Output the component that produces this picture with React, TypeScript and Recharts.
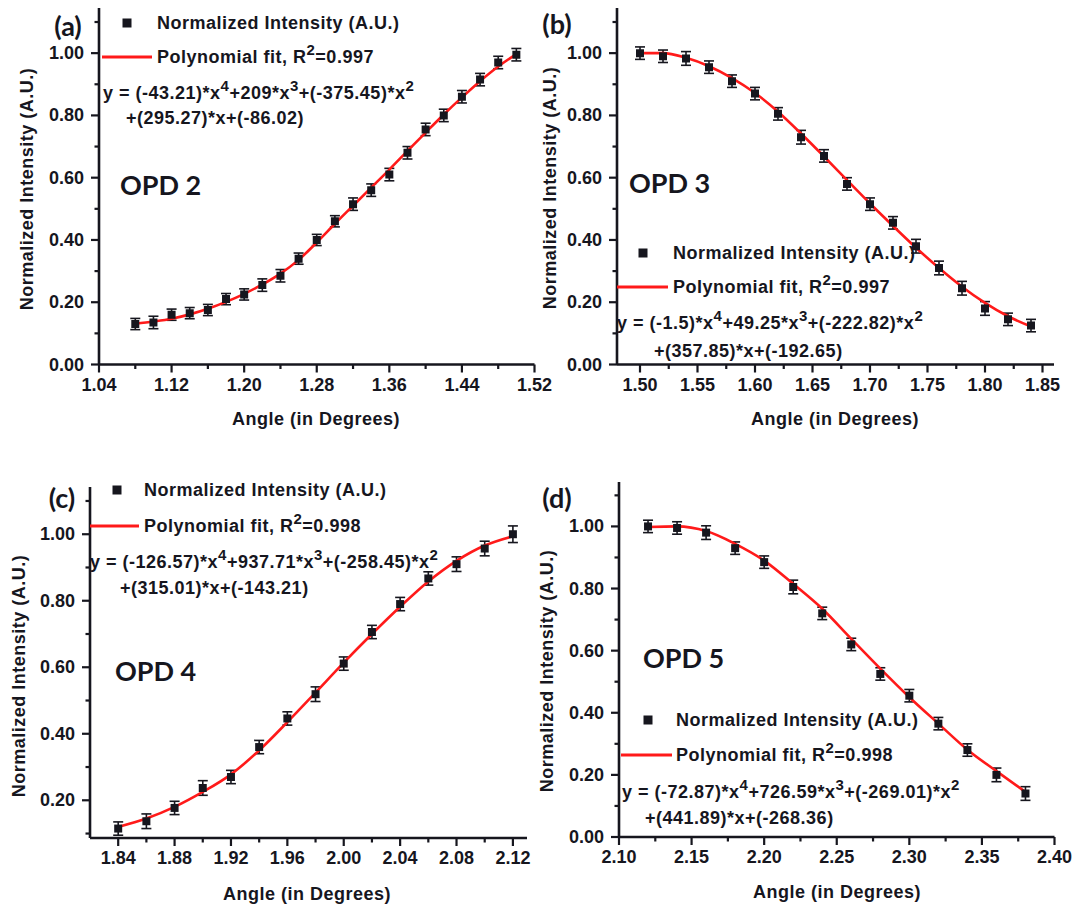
import React from 'react';
import { ComposedChart, Scatter, Line, XAxis, YAxis, ErrorBar, ZAxis } from 'recharts';

const FONT = '"Liberation Sans", Arial, sans-serif';
const TITLE_FONT = 'Lato, "Open Sans", sans-serif';
const INK = '#16161e';
const RED = '#ff1a1a';

// ---------- Panel (a) : OPD 2 ----------
const anglesA = [1.08, 1.10, 1.12, 1.14, 1.16, 1.18, 1.20, 1.22, 1.24, 1.26, 1.28, 1.30, 1.32, 1.34, 1.36, 1.38, 1.40, 1.42, 1.44, 1.46, 1.48, 1.50];
const intensityA = [0.13, 0.135, 0.16, 0.165, 0.175, 0.21, 0.225, 0.255, 0.285, 0.34, 0.40, 0.46, 0.515, 0.56, 0.61, 0.68, 0.755, 0.80, 0.86, 0.915, 0.97, 0.995];
const errA = [0.018, 0.02, 0.018, 0.018, 0.018, 0.018, 0.018, 0.02, 0.02, 0.018, 0.018, 0.018, 0.02, 0.02, 0.02, 0.02, 0.02, 0.02, 0.02, 0.02, 0.02, 0.02];
const fitA = [0.131, 0.138, 0.147, 0.161, 0.179, 0.201, 0.227, 0.257, 0.292, 0.336, 0.392, 0.452, 0.51, 0.568, 0.626, 0.686, 0.745, 0.803, 0.858, 0.91, 0.957, 0.997];
const xTicksA = [1.04, 1.08, 1.12, 1.16, 1.20, 1.24, 1.28, 1.32, 1.36, 1.40, 1.44, 1.48, 1.52];
const xMajorA = [1.04, 1.12, 1.20, 1.28, 1.36, 1.44, 1.52];

// ---------- Panel (b) : OPD 3 ----------
const anglesB = [1.50, 1.52, 1.54, 1.56, 1.58, 1.60, 1.62, 1.64, 1.66, 1.68, 1.70, 1.72, 1.74, 1.76, 1.78, 1.80, 1.82, 1.84];
const intensityB = [1.0, 0.99, 0.983, 0.955, 0.91, 0.87, 0.805, 0.73, 0.67, 0.58, 0.515, 0.455, 0.38, 0.31, 0.245, 0.18, 0.145, 0.125];
const errB = [0.02, 0.02, 0.022, 0.02, 0.02, 0.02, 0.02, 0.022, 0.02, 0.02, 0.02, 0.02, 0.022, 0.022, 0.022, 0.022, 0.02, 0.02];
const fitB = [1.0, 1.0, 0.985, 0.958, 0.92, 0.872, 0.812, 0.742, 0.668, 0.592, 0.517, 0.445, 0.375, 0.31, 0.25, 0.198, 0.155, 0.122];
const xTicksB = [1.50, 1.525, 1.55, 1.575, 1.60, 1.625, 1.65, 1.675, 1.70, 1.725, 1.75, 1.775, 1.80, 1.825, 1.85];
const xMajorB = [1.50, 1.55, 1.60, 1.65, 1.70, 1.75, 1.80, 1.85];

// ---------- Panel (c) : OPD 4 ----------
const anglesC = [1.84, 1.86, 1.88, 1.90, 1.92, 1.94, 1.96, 1.98, 2.00, 2.02, 2.04, 2.06, 2.08, 2.10, 2.12];
const intensityC = [0.115, 0.137, 0.177, 0.237, 0.27, 0.36, 0.446, 0.519, 0.611, 0.706, 0.79, 0.867, 0.91, 0.957, 1.0];
const errC = [0.02, 0.022, 0.02, 0.022, 0.02, 0.02, 0.02, 0.022, 0.02, 0.02, 0.02, 0.02, 0.022, 0.022, 0.025];
const fitC = [0.12, 0.145, 0.18, 0.225, 0.278, 0.35, 0.435, 0.524, 0.614, 0.70, 0.782, 0.858, 0.92, 0.966, 0.994];
const xTicksC = [1.84, 1.86, 1.88, 1.90, 1.92, 1.94, 1.96, 1.98, 2.00, 2.02, 2.04, 2.06, 2.08, 2.10, 2.12];
const xMajorC = [1.84, 1.88, 1.92, 1.96, 2.00, 2.04, 2.08, 2.12];

// ---------- Panel (d) : OPD 5 ----------
const anglesD = [2.12, 2.14, 2.16, 2.18, 2.20, 2.22, 2.24, 2.26, 2.28, 2.30, 2.32, 2.34, 2.36, 2.38];
const intensityD = [1.0, 0.995, 0.98, 0.93, 0.885, 0.805, 0.72, 0.62, 0.525, 0.455, 0.365, 0.28, 0.20, 0.14];
const errD = [0.02, 0.02, 0.022, 0.02, 0.02, 0.022, 0.02, 0.02, 0.02, 0.02, 0.02, 0.02, 0.022, 0.022];
const fitD = [0.998, 1.0, 0.985, 0.944, 0.89, 0.815, 0.735, 0.638, 0.542, 0.45, 0.365, 0.281, 0.212, 0.145];
const xTicksD = [2.10, 2.125, 2.15, 2.175, 2.20, 2.225, 2.25, 2.275, 2.30, 2.325, 2.35, 2.375, 2.40];
const xMajorD = [2.10, 2.15, 2.20, 2.25, 2.30, 2.35, 2.40];

// ---------- Y ticks ----------
const yTicksFull = [0, 0.1, 0.2, 0.3, 0.4, 0.5, 0.6, 0.7, 0.8, 0.9, 1.0, 1.1];
const yTicksNoZero = [0.1, 0.2, 0.3, 0.4, 0.5, 0.6, 0.7, 0.8, 0.9, 1.0, 1.1];
const yMajor = [0, 0.2, 0.4, 0.6, 0.8, 1.0];

const isMajor = (v: number, majors: number[]) => majors.some((m) => Math.abs(m - v) < 1e-6);

const zip = (xs: number[], ys: number[], es?: number[]) =>
  xs.map((x, i) => (es ? { x, y: ys[i], err: es[i] } : { x, y: ys[i] }));

const XTick = (props: any) => {
  const { x, y, payload, majors } = props;
  const v = payload.value as number;
  const major = isMajor(v, majors);
  return (
    <g>
      <line x1={x} y1={y} x2={x} y2={y + (major ? 8 : 4.5)} stroke={INK} strokeWidth={2.2} />
      {major && (
        <text x={x} y={y + 20} textAnchor="middle" dominantBaseline="central" fontFamily={FONT} fontWeight={700} fontSize={18} fill={INK}>
          {v.toFixed(2)}
        </text>
      )}
    </g>
  );
};

const YTick = (props: any) => {
  const { x, y, payload } = props;
  const v = payload.value as number;
  const major = isMajor(v, yMajor);
  return (
    <g>
      <line x1={x} y1={y} x2={x - (major ? 8 : 4.5)} y2={y} stroke={INK} strokeWidth={2.2} />
      {major && (
        <text x={x - 15} y={y} textAnchor="end" dominantBaseline="central" fontFamily={FONT} fontWeight={700} fontSize={18} fill={INK}>
          {v.toFixed(2)}
        </text>
      )}
    </g>
  );
};

type PanelProps = {
  left: number; top: number; width: number; height: number;
  xDomain: [number, number]; yDomain: [number, number];
  xTicks: number[]; xMajor: number[]; yTicks: number[];
  points: { x: number; y: number; err?: number }[];
  fit: { x: number; y: number }[];
};

function Panel({ left, top, width, height, xDomain, yDomain, xTicks, xMajor, yTicks, points, fit }: PanelProps) {
  const YW = 80, XH = 40, MT = 10, MR = 30;
  return (
    <div style={{ position: 'absolute', left: left - YW, top: top - MT }}>
      <ComposedChart width={YW + width + MR} height={MT + height + XH} margin={{ top: MT, right: MR, bottom: 0, left: 0 }}>
        <XAxis
          type="number" dataKey="x" domain={xDomain} ticks={xTicks} interval={0} allowDataOverflow
          height={XH} tickSize={0} tickMargin={0} tickLine={false}
          axisLine={{ stroke: INK, strokeWidth: 2.6 }}
          tick={(p: any) => <XTick {...p} majors={xMajor} />}
        />
        <YAxis
          type="number" dataKey="y" domain={yDomain} ticks={yTicks} interval={0} allowDataOverflow
          width={YW} tickSize={0} tickMargin={0} tickLine={false}
          axisLine={{ stroke: INK, strokeWidth: 2.6 }}
          tick={(p: any) => <YTick {...p} />}
        />
        <ZAxis range={[64, 64]} />
        <Scatter data={points} fill={INK} shape="square" isAnimationActive={false}>
          <ErrorBar dataKey="err" direction="y" width={5} stroke={INK} strokeWidth={1.6} />
        </Scatter>
        <Line data={fit} dataKey="y" type="monotone" stroke={RED} strokeWidth={2.6} dot={false} activeDot={false} isAnimationActive={false} />
      </ComposedChart>
    </div>
  );
}

function Rich({ x, y, text, size = 18, spacing = 0.5 }: { x: number; y: number; text: string; size?: number; spacing?: number }) {
  const parts = text.split(/(\^\d)/).filter((s) => s.length > 0);
  const out: React.ReactNode[] = [];
  let shifted = false;
  parts.forEach((p, i) => {
    if (p.startsWith('^')) {
      out.push(<tspan key={i} dy={-8} fontSize={size - 3}>{p.slice(1)}</tspan>);
      shifted = true;
    } else {
      out.push(<tspan key={i} dy={shifted ? 8 : 0} fontSize={size}>{p}</tspan>);
      shifted = false;
    }
  });
  return (
    <text x={x} y={y} dominantBaseline="central" fontFamily={FONT} fontWeight={700} fontSize={size} fill={INK} style={{ letterSpacing: `${spacing}px`, whiteSpace: 'pre' }}>
      {out}
    </text>
  );
}

type LegendProps = { sq: [number, number]; tx: number; y1: number; lineX: [number, number]; y2: number; r2: string; eq1: [number, number, string]; eq2: [number, number, string] };

function Legend({ sq, tx, y1, lineX, y2, r2, eq1, eq2 }: LegendProps) {
  return (
    <g>
      <rect x={sq[0] - 4.5} y={sq[1] - 4.5} width={9} height={9} fill={INK} />
      <Rich x={tx} y={y1} text="Normalized Intensity (A.U.)" />
      <line x1={lineX[0]} y1={y2} x2={lineX[1]} y2={y2} stroke={RED} strokeWidth={3} />
      <Rich x={tx} y={y2} text={`Polynomial fit, R^2=${r2}`} />
      <Rich x={eq1[0]} y={eq1[1]} text={eq1[2]} />
      <Rich x={eq2[0]} y={eq2[1]} text={eq2[2]} />
    </g>
  );
}

function Titles({ xc, xy, yx, yc }: { xc: number; xy: number; yx: number; yc: number }) {
  return (
    <g fontFamily={FONT} fontWeight={700} fontSize={18} fill={INK}>
      <text x={xc} y={xy} textAnchor="middle" dominantBaseline="central" style={{ letterSpacing: '0.5px' }}>Angle (in Degrees)</text>
      <text x={yx} y={yc} textAnchor="middle" dominantBaseline="central" transform={`rotate(-90 ${yx} ${yc})`} style={{ letterSpacing: '0.5px' }}>
        Normalized Intensity (A.U.)
      </text>
    </g>
  );
}

function Label({ x, y, text, size, anchor = 'start' }: { x: number; y: number; text: string; size: number; anchor?: string }) {
  return (
    <text x={x} y={y} textAnchor={anchor as any} dominantBaseline="central" fontFamily={TITLE_FONT} fontWeight={700} fontSize={size} fill={INK}>
      {text}
    </text>
  );
}

export default function App() {
  return (
    <div style={{ position: 'absolute', left: 0, top: 0, width: 1075, height: 908, background: '#fff', overflow: 'hidden' }}>
      <Panel left={98.5} top={7.5} width={435.5} height={356.5} xDomain={[1.04, 1.52]} yDomain={[0, 1.145]}
        xTicks={xTicksA} xMajor={xMajorA} yTicks={yTicksFull} points={zip(anglesA, intensityA, errA)} fit={zip(anglesA, fitA)} />
      <Panel left={616.5} top={7.5} width={437} height={356.5} xDomain={[1.48, 1.86]} yDomain={[0, 1.145]}
        xTicks={xTicksB} xMajor={xMajorB} yTicks={yTicksFull} points={zip(anglesB, intensityB, errB)} fit={zip(anglesB, fitB)} />
      <Panel left={89.5} top={486.5} width={437} height={351} xDomain={[1.82, 2.13]} yDomain={[0.0866, 1.142]}
        xTicks={xTicksC} xMajor={xMajorC} yTicks={yTicksNoZero} points={zip(anglesC, intensityC, errC)} fit={zip(anglesC, fitC)} />
      <Panel left={619} top={481.5} width={435.5} height={355} xDomain={[2.10, 2.40]} yDomain={[0, 1.143]}
        xTicks={xTicksD} xMajor={xMajorD} yTicks={yTicksFull} points={zip(anglesD, intensityD, errD)} fit={zip(anglesD, fitD)} />

      <svg width={1075} height={908} style={{ position: 'absolute', left: 0, top: 0, pointerEvents: 'none' }}>
        {/* panel (a) */}
        <Label x={68} y={25} text="(a)" size={27} anchor="middle" />
        <Label x={120} y={184} text="OPD 2" size={27} />
        <Legend sq={[127, 23]} tx={157} y1={23} lineX={[102, 152]} y2={57} r2="0.997"
          eq1={[103, 93, 'y = (-43.21)*x^4+209*x^3+(-375.45)*x^2']} eq2={[126, 118, '+(295.27)*x+(-86.02)']} />
        <Titles xc={316} xy={419} yx={27} yc={189} />

        {/* panel (b) */}
        <Label x={557} y={23} text="(b)" size={27} anchor="middle" />
        <Label x={629} y={182} text="OPD 3" size={27} />
        <Legend sq={[643, 253]} tx={673} y1={253} lineX={[617, 668]} y2={287} r2="0.997"
          eq1={[617, 323, 'y = (-1.5)*x^4+49.25*x^3+(-222.82)*x^2']} eq2={[654, 351, '+(357.85)*x+(-192.65)']} />
        <Titles xc={835} xy={419} yx={550} yc={188} />

        {/* panel (c) */}
        <Label x={62} y={497} text="(c)" size={27} anchor="middle" />
        <Label x={115} y={670} text="OPD 4" size={27} />
        <Legend sq={[117, 490]} tx={144} y1={490} lineX={[90, 139]} y2={526} r2="0.998"
          eq1={[90, 562, 'y = (-126.57)*x^4+937.71*x^3+(-258.45)*x^2']} eq2={[120, 588, '+(315.01)*x+(-143.21)']} />
        <Titles xc={307} xy={894} yx={19} yc={676} />

        {/* panel (d) */}
        <Label x={557} y={497} text="(d)" size={27} anchor="middle" />
        <Label x={643} y={657} text="OPD 5" size={27} />
        <Legend sq={[648, 720]} tx={676} y1={720} lineX={[621, 672]} y2={755} r2="0.998"
          eq1={[622, 792, 'y = (-72.87)*x^4+726.59*x^3+(-269.01)*x^2']} eq2={[645, 818, '+(441.89)*x+(-268.36)']} />
        <Titles xc={837} xy={892} yx={547} yc={671} />
      </svg>
    </div>
  );
}
